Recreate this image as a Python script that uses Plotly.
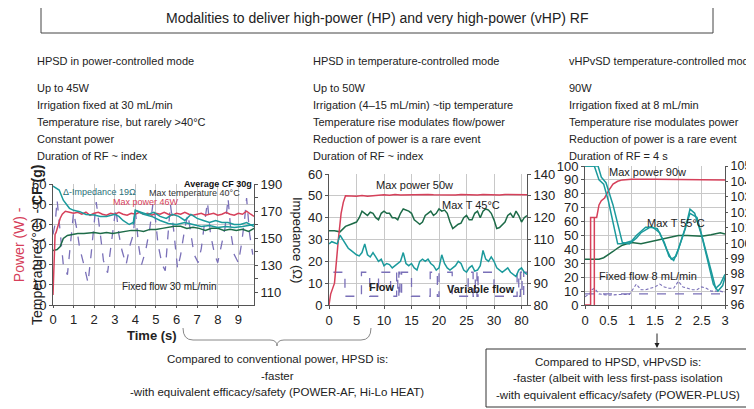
import plotly.graph_objects as go

W, H = 754, 409
OFF = 8  # page body margin in the browser
def px(x): return (x - OFF) / W
def py(y): return 1 - (y - OFF) / H

RED = '#d6405a'; TEAL = '#1b9a9c'; GREEN = '#1d6b48'; PURPLE = '#7a70b8'
SANS = 'Liberation Sans, Arial, sans-serif'

# ---------------- Panel 1 data (power-controlled) ----------------
p1_power_t = [0,0.05,0.1,0.15,0.25,0.35,0.45,0.6,0.8,1.0,1.2,1.4,1.6,1.8,2.0,2.2,2.4,2.6,2.8,3.0,3.2,3.4,3.6,3.8,4.0,4.2,4.4,4.6,4.8,5.0,5.2,5.4,5.6,5.8,6.0,6.2,6.4,6.6,6.8,7.0,7.2,7.4,7.6,7.8,8.0,8.2,8.4,8.6,8.8,9.0,9.2,9.4,9.6,9.76]
p1_power = [5,25,35,36,40,43,45,46.5,46,45.5,46,45,46,44.5,45.5,46,45,44.5,45.5,45,46,45,44.5,45.5,45,46,45,45.5,44.5,45.5,45,46,45,44.5,45.5,45,46,45,44.5,45,45.5,44.5,45,45.5,44.5,45,46,45,44.5,45.5,45,46.5,45,44]
p1_imp_a_t = [0,0.3,0.5,0.8,1.0,1.3,1.6,2.0,2.3,2.6,3.0,3.2,3.4,3.7,3.9,4.0,4.3,4.6,4.9,5.2,5.5,5.8,6.1,6.4,6.7,7.0,7.3,7.6,7.9,8.2,8.5,8.8,9.1,9.4,9.76]
p1_imp_a = [188.5,185.5,178,172,170.5,169.5,167.5,167,166,166,167.5,166,163,160,161.5,170.5,169,167.5,169,166,164.5,167.5,166,163,167.5,164.5,163,161.5,163,161.5,161.5,160,160,161.5,158.5]
p1_imp_b_t = [3.9,4.0,4.4,4.8,5.2,5.6,6.0,6.4,6.8,7.2,7.6,8.0,8.4,8.8,9.2,9.6,9.76]
p1_imp_b = [160,170.5,167.5,166,163,160.75,160,161.5,160,158.5,159.25,157.75,158.5,157.75,158.5,159.25,160]
p1_temp_t = [0,0.2,0.35,0.5,0.7,0.9,1.2,1.5,1.8,2.0,2.3,2.6,2.9,3.2,3.5,3.8,4.1,4.4,4.7,5.0,5.3,5.6,5.9,6.2,6.5,6.8,7.1,7.4,7.7,8.0,8.3,8.6,8.9,9.2,9.5,9.76]
p1_temp = [27,27.5,29,33,34.5,35,35.5,35.5,36,36,35.5,36,35.5,36,36.5,37,37,36.5,37.5,37.5,38,38.5,39,39,38,38.5,38,37,38,38,37,37.5,37,37.5,36.5,38]
p1_cf_t = [0,0.1,0.2,0.35,0.5,0.7,0.85,1.0,1.15,1.3,1.5,1.7,1.85,2.0,2.1,2.3,2.45,2.65,2.8,2.95,3.05,3.2,3.35,3.55,3.75,3.9,4.0,4.15,4.3,4.5,4.7,4.85,4.95,5.1,5.3,5.45,5.6,5.7,5.85,6.05,6.2,6.4,6.55,6.7,6.85,7.05,7.2,7.35,7.5,7.65,7.85,8.0,8.15,8.35,8.5,8.65,8.8,9.0,9.15,9.3,9.4,9.55,9.7]
p1_cf = [35,40,52,35,20,15,30,46,38,28,20,11,25,40,51,35,22,16,28,42,48,35,27,20,30,35,47,30,20,27,38,50,45,30,20,17,35,50,38,18,25,38,45,35,25,21,28,40,51,35,25,21,28,38,53,35,25,21,30,42,53,35,25]

# ---------------- Panel 2 data (temperature-controlled) ----------------
p2_power_t = [0,0.3,1.0,1.3,1.7,2.2,2.6,3.0,4,5,6,7,8,9,10,11,12,13,14,15,16,17,18,19,20,21,22,23,24,25,26,27,28,29,30,31,32,33,34,35,36]
p2_power = [0,5,10,20,30,42,47,50,50,49.8,50.2,49.8,50,50.3,50.5,50.3,50.6,50.4,50.5,50.6,50.4,50.5,50.6,50.5,50.4,50.6,50.5,50.4,50.6,50.5,50.5,50.4,50.6,50.5,50.5,50.4,50.6,50.5,50.4,50.6,50.5]
p2_temp_t = [0,1,2,2.5,3,4,5,5.5,6,6.5,7,7.5,8,8.5,9,9.5,10,10.5,11,11.5,12,12.5,13,13.5,14,14.5,15,15.5,16,16.5,17,17.5,18,18.5,19,19.5,20,20.5,21,21.5,22,22.5,23,23.5,24,24.5,25,25.5,26,26.5,27,27.5,28,28.5,29,29.5,30,30.5,31,31.5,32,32.5,33,33.5,34,34.5,35,35.5,36]
p2_temp = [34,34,33.5,35,36,37,38,40,43,42,41,42.5,42,40,39,42,43,42,42,40,40,39,42,44,43.5,43,42,39,38,37,38,41,42,43,41,42,44,43,43.5,42,38,35,36,37,37.5,40,41,39,39,42,43,40,43,44,43.5,42,39,35,35.5,37,38,41,42,40,43,41,38,40,41]
p2_imp_t = [0,0.5,1,1.5,2,2.5,3,3.5,4,4.5,5,5.5,6,6.5,7,7.5,8,8.5,9,9.5,10,10.5,11,11.5,12,12.5,13,13.5,14,14.5,15,15.5,16,16.5,17,17.5,18,18.5,19,19.5,20,20.5,21,21.5,22,22.5,23,23.5,24,24.5,25,25.5,26,26.5,27,27.5,28,28.5,29,29.5,30,30.5,31,31.5,32,32.5,33,33.5,34,34.5,35,35.5,36]
p2_imp = [108,109,108.5,108,112,110,108,106,105,104,103,102.5,104,108,103,102,104,102,100,101,98,99,98.5,97,98,99,100,104,99,98,99,97,96,100,101,100,101,99,98,96,97,103,99,97,96,97,98,100,99,96,95,97,98,95.5,96,98,105,101,100,102,100,97,96,95,96,97,95,94,93,96,97,95,94]
p2_flow_t = [0.8,2.9,5.9,7.4,9.0,11.2,12.3,12.5,12.7,12.9,13.2,15.0,18.4,19.7,20.0,22.4,25.3,26.2,26.6,26.9,27.1,30.0,34.2,34.5,34.8,35.1,35.4,36]
p2_flow = [15,4,15,4,15,4,15,4,15,4,15,4,15,4,15,4,15,4,15,4,15,4,15,4,15,4,15,15]
p2_tickvals = [0,5,10,15,20,25,30,35]
p2_ticktext = ['0','5','10','15','20','25','30','80']

# ---------------- Panel 3 data (vHPvSD) ----------------
p3_power_t = [0,0.12,0.12,0.25,0.3,0.35,0.42,0.5,0.6,0.7,0.8,1.0,1.5,2.0,2.5,2.8,3.0]
p3_power = [0,0,63,63,72,75,77,82,87,89,90,90.5,90.5,90.5,90,90.5,90]
p3_power_b_t = [0.2,0.2]
p3_power_b = [0,63]
p3_imp_a_t = [0,0.2,0.3,0.4,0.5,0.6,0.7,0.8,1.0,1.1,1.3,1.45,1.6,1.75,1.85,1.95,2.1,2.25,2.4,2.55,2.7,2.8,2.9,3.0]
p3_imp_a = [105,105,104.1,103.83,102.75,101.4,99.96,99.96,100.14,100.5,101.04,101.04,100.68,99.6,98.97,99.15,100.5,101.94,101.67,100.05,98.25,97.08,97.35,97.98]
p3_imp_b_t = [0,0.28,0.35,0.45,0.6,0.7,0.8,0.95,1.1,1.2,1.4,1.55,1.7,1.8,1.9,2.0,2.15,2.25,2.35,2.5,2.65,2.75,2.85,2.95,3.0]
p3_imp_b = [105,105,104.28,103.92,102.48,101.22,100.05,99.96,100.32,100.68,101.04,100.95,100.05,99.15,98.88,99.6,100.95,102.21,101.94,100.5,98.52,97.35,96.9,97.26,97.8]
p3_temp_t = [0,0.3,0.4,0.5,0.6,0.7,0.8,0.9,1.0,1.2,1.4,1.6,1.8,2.0,2.2,2.4,2.5,2.7,2.9,3.0]
p3_temp = [33,33,34,36,38.5,41,43,44,45,44,45.5,47.5,49,50,50,50,49.5,50.5,52,51]
p3_flow_t = [0,0.1,0.15,0.2,0.3,0.5,0.7,0.95,1.0,1.1,1.2,1.3,1.4,1.5,1.6,1.7,1.8,1.9,2.0,2.1,2.2,2.3,2.4,2.5,2.6,2.7,2.8,2.9,3.0]
p3_flow = [6,8,11,12,8,7,7.5,7.5,10,15,11,11,12,13,15,13,12,12,17,13,12,11,11,13,12,10,10,10,9]
p3_flow_set_t = [0,3]
p3_flow_set = [8,8]

# ---------------- Texts ----------------
title_text = 'Modalities to deliver high-power (HP) and very high-power (vHP) RF'
col1 = ['HPSD in power-controlled mode','Up to 45W','Irrigation fixed at 30 mL/min','Temperature rise, but rarely >40°C','Constant power','Duration of RF ~ index']
col2 = ['HPSD in temperature-controlled mode','Up to 50W','Irrigation (4–15 mL/min) ~tip temperature','Temperature rise modulates flow/power','Reduction of power is a rare event','Duration of RF ~ index']
col3 = ['vHPvSD temperature-controlled mode','90W','Irrigation fixed at 8 mL/min','Temperature rise modulates power','Reduction of power is a rare event','Duration of RF = 4 s']
bottom_left = ['Compared to conventional power, HPSD is:','-faster','-with equivalent efficacy/safety (POWER-AF, Hi-Lo HEAT)']
bottom_right = ['Compared to HPSD, vHPvSD is:','-faster (albeit with less first-pass isolation','-with equivalent efficacy/safety (POWER-PLUS)']

fig = go.Figure()

def line(x, y, xa, ya, color, dash=None, width=1.5, shape='linear'):
    fig.add_trace(go.Scatter(x=x, y=y, xaxis=xa, yaxis=ya, mode='lines',
                             line=dict(color=color, width=width, dash=dash, shape=shape),
                             showlegend=False, hoverinfo='skip'))

# panel 1
line(p1_cf_t, p1_cf, 'x', 'y', PURPLE, dash='dash', width=1.3)
line(p1_temp_t, p1_temp, 'x', 'y', GREEN)
line(p1_power_t, p1_power, 'x', 'y', RED)
line(p1_imp_a_t, p1_imp_a, 'x', 'y2', TEAL)
line(p1_imp_b_t, p1_imp_b, 'x', 'y2', TEAL)
# panel 2
line(p2_flow_t, p2_flow, 'x2', 'y3', PURPLE, dash='dash', width=1.3, shape='hv')
line(p2_imp_t, p2_imp, 'x2', 'y4', TEAL)
line(p2_temp_t, p2_temp, 'x2', 'y3', GREEN)
line(p2_power_t, p2_power, 'x2', 'y3', RED)
# panel 3
line(p3_flow_set_t, p3_flow_set, 'x3', 'y5', PURPLE, dash='dash', width=1.3)
line(p3_flow_t, p3_flow, 'x3', 'y5', PURPLE, dash='3px,2px', width=1.1)
line(p3_temp_t, p3_temp, 'x3', 'y5', GREEN)
line(p3_power_t, p3_power, 'x3', 'y5', RED)
line(p3_power_b_t, p3_power_b, 'x3', 'y5', RED)
line(p3_imp_a_t, p3_imp_a, 'x3', 'y6', TEAL)
line(p3_imp_b_t, p3_imp_b, 'x3', 'y6', TEAL)

GRID = '#c8c8c8'
TF = dict(family=SANS, size=13, color='#222')
def ax(dom, rng, **kw):
    d = dict(domain=dom, range=rng, showgrid=True, gridcolor=GRID, showline=True, linecolor='#555',
             ticks='outside', ticklen=3, tickcolor='#555', tickfont=TF, zeroline=False, fixedrange=True,
             automargin=False)
    d.update(kw); return d

ybot = py(305)
fig.update_layout(
    width=W, height=H, margin=dict(l=0, r=0, t=0, b=0, autoexpand=False),
    paper_bgcolor='white', plot_bgcolor='white',
    xaxis=ax([px(53), px(254)], [0, 9.76], dtick=1, anchor='y', ticklen=2),
    yaxis=ax([ybot, py(184)], [0, 60], dtick=10, anchor='x'),
    yaxis2=ax([ybot, py(184)], [100.4, 190], overlaying='y', side='right', anchor='x',
              showgrid=False, tickvals=[110,130,150,170,190],
              minor=dict(tickvals=[120,140,160,180], ticks='outside', ticklen=3, tickcolor='#555')),
    xaxis2=ax([px(329), px(527)], [0, 36], tickvals=p2_tickvals, ticktext=p2_ticktext, anchor='y3'),
    yaxis3=ax([ybot, py(174)], [0, 60], dtick=10, anchor='x2'),
    yaxis4=ax([ybot, py(174)], [80, 140], dtick=10, overlaying='y3', side='right', anchor='x2', showgrid=False),
    xaxis3=ax([px(585), px(725)], [0, 3], dtick=0.5, anchor='y5'),
    yaxis5=ax([ybot, py(166)], [0, 100], dtick=10, anchor='x3'),
    yaxis6=ax([ybot, py(166)], [96, 105], dtick=1, overlaying='y5', side='right', anchor='x3', showgrid=False,
              ticklen=2, tickfont=dict(family=SANS, size=12.5, color='#222')),
)

ann = []
def txt(x, y, s, size=12, family=SANS, color='#222', xanchor='left', xref='paper', yref='paper', **kw):
    ann.append(dict(x=x, y=y, text=s, showarrow=False, xref=xref, yref=yref, xanchor=xanchor,
                    yanchor='middle', borderpad=0, font=dict(family=family, size=size, color=color), **kw))

txt(px(377), py(18), title_text, size=14, xanchor='center')
ys = [61, 88, 105, 122, 139, 156]
for col, x0 in ((col1, 36), (col2, 312), (col3, 568)):
    for s, yy in zip(col, ys):
        txt(px(x0), py(yy), s, size=11)

# axis titles
txt(px(28), py(245), "<span style='color:%s'>Power (W) -</span><br>Temperature (°C) - <b>CF (g)</b>" % RED,
    size=14, xanchor='center', textangle=-90)
txt(px(297), py(240), 'Impedance (Ω)', size=13, xanchor='center', textangle=90)
txt(px(152), py(335), '<b>Time (s)</b>', size=13, xanchor='center')

# in-plot labels panel 1
txt(0.45, 56, 'Δ-Impedance 19Ω', size=9, color='#2a6f78', xref='x', yref='y')
txt(9.7, 59.8, '<b>Average CF 30g</b>', size=9, color='#111', xanchor='right', xref='x', yref='y')
txt(4.6, 55.7, 'Max temperature 40°C', size=9, color='#333', xref='x', yref='y')
txt(2.85, 51.2, 'Max power 46W', size=9, color=RED, xref='x', yref='y')
txt(3.3, 9, 'Fixed flow 30 mL/min', size=10, color='#222', xref='x', yref='y')
# panel 2
txt(8.4, 55, 'Max power 50w', size=11, xref='x2', yref='y3')
txt(20.4, 45.8, 'Max T 45°C', size=11, xref='x2', yref='y3')
txt(7.1, 8.2, '<b>Flow</b>', size=11, xref='x2', yref='y3')
txt(21.3, 7.3, '<b>Variable flow</b>', size=11, xref='x2', yref='y3')
# panel 3
txt(0.49, 95.7, 'Max power 90w', size=11, xref='x3', yref='y5')
txt(1.31, 59, 'Max T 55°C', size=11, xref='x3', yref='y5')
txt(0.28, 21, 'Fixed flow 8 mL/min', size=11, xref='x3', yref='y5')

# bottom texts
for s, yy in zip(bottom_left, [359, 376, 392]):
    txt(px(277), py(yy), s, size=11.5, xanchor='center')
for s, yy in zip(bottom_right, [362, 378, 395]):
    txt(px(618), py(yy), s, size=11.5, xanchor='center')

# arrow
ann.append(dict(x=px(657), y=py(348), xref='paper', yref='paper', ax=0, ay=-16, showarrow=True,
                arrowhead=2, arrowsize=1, arrowwidth=1, arrowcolor='#222', text=''))
fig.update_layout(annotations=ann)

def P(x, y): return '%.5f,%.5f' % (px(x), py(y))
brace = ('M ' + P(183, 328) + ' Q ' + P(183, 340) + ' ' + P(193, 340) + ' L ' + P(270, 340) +
         ' Q ' + P(277, 340) + ' ' + P(277, 346) + ' Q ' + P(277, 340) + ' ' + P(284, 340) +
         ' L ' + P(361, 340) + ' Q ' + P(371, 340) + ' ' + P(371, 328))
shapes = [
    dict(type='rect', xref='paper', yref='paper', x0=px(41), x1=px(713), y0=py(33), y1=py(1),
         line=dict(color='#444', width=1)),
    dict(type='rect', xref='paper', yref='paper', x0=px(486), x1=px(749), y0=py(407), y1=py(349),
         line=dict(color='#333', width=1)),
    dict(type='path', xref='paper', yref='paper', path=brace, line=dict(color='#888', width=1)),
]
fig.update_layout(shapes=shapes)

fig.write_html('out.html')
